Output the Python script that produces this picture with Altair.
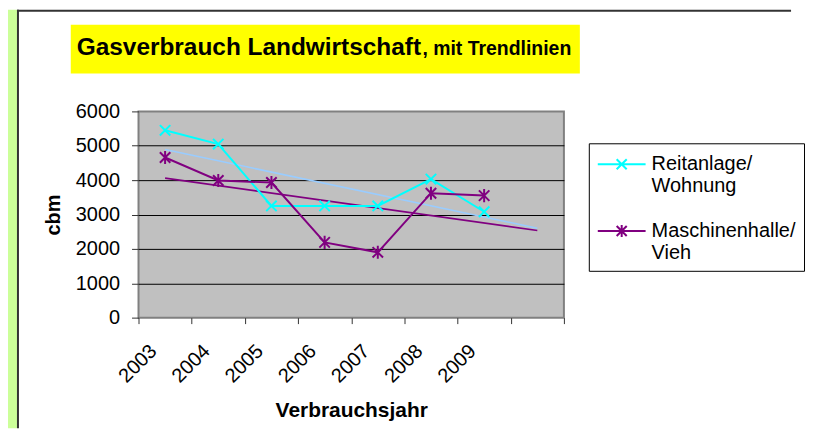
import altair as alt
import pandas as pd
import numpy as np

# ---- data ----
years = ["2003", "2004", "2005", "2006", "2007", "2008", "2009"]
slots = years + ["2010"]          # empty 8th category used by the trend lines
series_names = ["Reitanlage/ Wohnung", "Maschinenhalle/ Vieh"]
reitanlage = [5450, 5050, 3250, 3250, 3250, 4030, 3080]
maschinenhalle = [4660, 3990, 3930, 2190, 1900, 3620, 3550]
y_ticks = [0, 1000, 2000, 3000, 4000, 5000, 6000]

line_colors = ["#00FFFF", "#800080"]
trend_colors = ["#99CCFF", "#800080"]

FONT = "Liberation Sans"
W, H = 427, 207

rows = []
for name, vals in zip(series_names, [reitanlage, maschinenhalle]):
    for yr, v in zip(years, vals):
        rows.append({"year": yr, "series": name, "value": v})
df = pd.DataFrame(rows)

# linear trend lines (least squares), extended one period forward
trows = []
for name, vals in zip(series_names, [reitanlage, maschinenhalle]):
    xs = np.arange(1, len(vals) + 1)
    slope, icpt = np.polyfit(xs, vals, 1)
    for xi, lab in [(1, slots[0]), (len(slots), slots[-1])]:
        trows.append({"year": lab, "series": name, "value": float(slope * xi + icpt)})
tdf = pd.DataFrame(trows)

x_enc = alt.X(
    "year:N",
    scale=alt.Scale(type="band", domain=slots, paddingInner=0, paddingOuter=0),
    axis=alt.Axis(
        title="Verbrauchsjahr", labelAngle=-45, tickBand="extent",
        labelExpr="datum.value == '2010' ? '' : datum.label",
        labelFontSize=20, labelFont=FONT, labelColor="black",
        titleFontSize=21, titleFontWeight="bold", titleFont=FONT, titleColor="black",
        tickSize=6, tickColor="#333333", domain=False, grid=False,
        labelPadding=17, labelOffset=-19, titlePadding=14,
    ),
)
y_enc = alt.Y(
    "value:Q",
    scale=alt.Scale(domain=[0, 6000], nice=False),
    axis=alt.Axis(
        title="cbm", values=y_ticks, format="d",
        labelFontSize=20, labelFont=FONT, labelColor="black",
        titleFontSize=20, titleFontWeight="bold", titleFont=FONT, titleColor="black",
        tickSize=7, tickColor="#333333", domain=False,
        grid=True, gridColor="black", gridWidth=1,
        gridOpacity={"condition": {"test": "datum.value == 0 || datum.value == 6000", "value": 0}, "value": 1},
        labelPadding=12, titlePadding=12,
    ),
)
color_line = alt.Color("series:N", scale=alt.Scale(domain=series_names, range=line_colors), legend=None)
color_trend = alt.Color("series:N", scale=alt.Scale(domain=series_names, range=trend_colors), legend=None)

one = pd.DataFrame({"a": [0]})

# decorations (page background strip, frame, title box)
strip = alt.Chart(one).mark_rect(color="#CCFF99").encode(
    x=alt.value(-131), x2=alt.value(-122), y=alt.value(-102), y2=alt.value(318))
left_border = alt.Chart(one).mark_rule(color="#333333", strokeWidth=2).encode(
    x=alt.value(-121), y=alt.value(-102), y2=alt.value(318))
top_border = alt.Chart(one).mark_rule(color="#333333", strokeWidth=2).encode(
    x=alt.value(-122), x2=alt.value(655), y=alt.value(-101))
title_box = alt.Chart(one).mark_rect(color="#FFFF00").encode(
    x=alt.value(-68), x2=alt.value(443), y=alt.value(-87), y2=alt.value(-38))
title_main = alt.Chart(one).mark_text(
    align="left", baseline="alphabetic", font=FONT, fontSize=24.5, fontWeight="bold", color="black"
).encode(x=alt.value(-62), y=alt.value(-57), text=alt.value("Gasverbrauch Landwirtschaft"))
title_sub = alt.Chart(one).mark_text(
    align="left", baseline="alphabetic", font=FONT, fontSize=19.5, fontWeight="bold", color="black"
).encode(x=alt.value(285), y=alt.value(-57), text=alt.value(", mit Trendlinien"))

trend = alt.Chart(tdf).mark_line(strokeWidth=1.6).encode(x=x_enc, y=y_enc, color=color_trend, detail="series:N")
lines = alt.Chart(df).mark_line(strokeWidth=2).encode(x=x_enc, y=y_enc, color=color_line)

x_path = "M-1,-1L1,1M-1,1L1,-1"
ast_path = "M-1,-1L1,1M-1,1L1,-1M0,-1.25L0,1.25"
pts1 = alt.Chart(df).transform_filter(alt.datum.series == series_names[0]).mark_point(
    shape=x_path, size=110, filled=False, strokeWidth=2, opacity=1, color=line_colors[0]
).encode(x=x_enc, y=y_enc)
pts2 = alt.Chart(df).transform_filter(alt.datum.series == series_names[1]).mark_point(
    shape=ast_path, size=110, filled=False, strokeWidth=2, opacity=1, color=line_colors[1]
).encode(x=x_enc, y=y_enc)

# legend: line with marker, two-line labels
m = 0.42
leg_x = f"M-2,0H2M{-m},{-m}L{m},{m}M{-m},{m}L{m},{-m}"
leg_ast = leg_x + f"M0,{-m - 0.08}V{m + 0.08}"
legend_def = alt.Legend(
    title=None, orient="none", legendX=452, legendY=32,
    strokeColor="black", fillColor="white", padding=8,
    symbolSize=576, symbolStrokeWidth=2, symbolOpacity=1, symbolOffset=12,
    labelFontSize=20, labelFont=FONT, labelColor="black", labelOffset=17,
    labelLimit=220, rowPadding=22,
    labelExpr="split(datum.label, ' ')",
)
legend_layer = alt.Chart(df).transform_filter("false").mark_point(
    filled=False, strokeWidth=2, opacity=1
).encode(
    x=x_enc, y=y_enc,
    stroke=alt.Stroke("series:N", scale=alt.Scale(domain=series_names, range=line_colors), legend=legend_def),
    shape=alt.Shape("series:N", scale=alt.Scale(domain=series_names, range=[leg_x, leg_ast]), legend=legend_def),
)

chart = alt.layer(
    strip, left_border, top_border, title_box, title_main, title_sub,
    trend, lines, pts1, pts2, legend_layer,
).resolve_scale(color="independent").properties(
    width=W, height=H, padding=0, background="white"
).configure(font=FONT).configure_view(
    fill="#C0C0C0", stroke="#808080", strokeWidth=2
)

chart.save("out.html", embed_options={"renderer": "svg", "actions": False})
